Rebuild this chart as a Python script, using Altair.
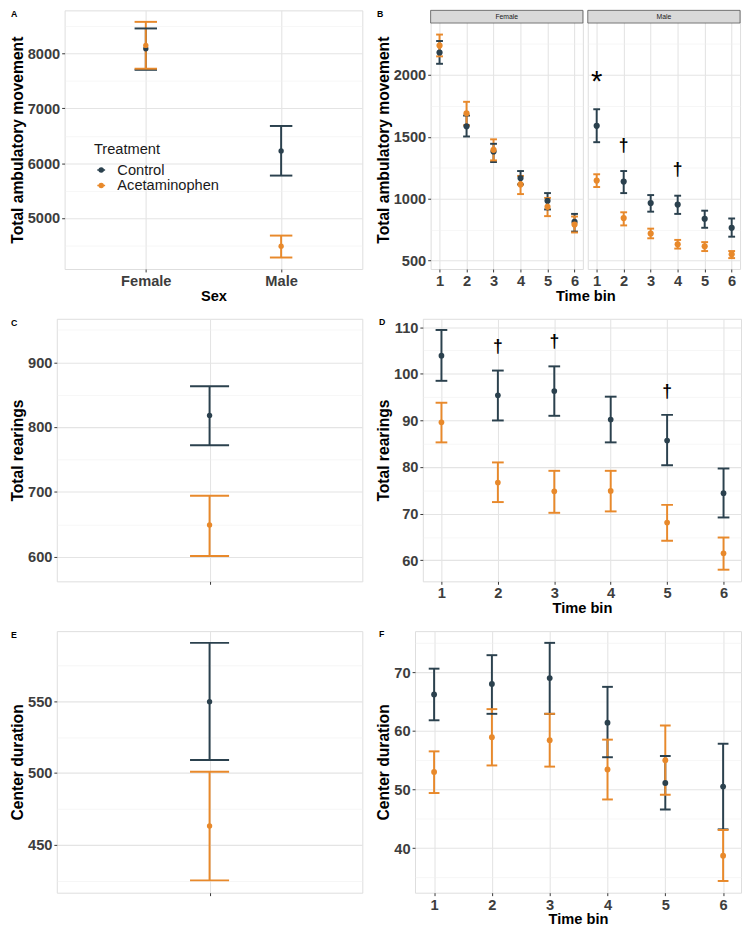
import altair as alt
import pandas as pd

# ---------------- data ----------------
treatments = ["Control", "Acetaminophen"]
sexes = ["Female", "Male"]
time_bins = [1, 2, 3, 4, 5, 6]

# Panel A: total ambulatory movement by sex
a_ctrl_mean = [8090, 6225]
a_ctrl_lo = [7705, 5775]
a_ctrl_hi = [8460, 6680]
a_acet_mean = [8150, 4485]
a_acet_lo = [7725, 4280]
a_acet_hi = [8580, 4680]

# Panel B: ambulatory movement per time bin, females
bf_ctrl_mean = [2181, 1586, 1382, 1167, 984, 813]
bf_ctrl_lo = [2090, 1503, 1297, 1116, 914, 735]
bf_ctrl_hi = [2274, 1672, 1444, 1224, 1046, 878]
bf_acet_mean = [2238, 1690, 1395, 1116, 935, 792]
bf_acet_lo = [2150, 1594, 1310, 1038, 860, 728]
bf_acet_hi = [2326, 1783, 1480, 1185, 1007, 857]
# Panel B: males
bm_ctrl_mean = [1589, 1139, 966, 953, 839, 766]
bm_ctrl_lo = [1457, 1046, 896, 878, 766, 694]
bm_ctrl_hi = [1723, 1224, 1030, 1025, 904, 841]
bm_acet_mean = [1147, 844, 720, 632, 617, 552]
bm_acet_lo = [1095, 785, 681, 598, 578, 521]
bm_acet_hi = [1198, 891, 759, 668, 650, 578]
b_star_bin = [1]
b_star_val = [1995]
b_dagger_bin = [2, 4]
b_dagger_val = [1426, 1232]

# Panel C: total rearings
c_ctrl_mean = [818]
c_ctrl_lo = [772]
c_ctrl_hi = [863]
c_acet_mean = [649]
c_acet_lo = [601]
c_acet_hi = [694]

# Panel D: rearings per time bin
d_ctrl_mean = [103.9, 95.4, 96.3, 90.2, 85.7, 74.4]
d_ctrl_lo = [98.5, 90.0, 91.0, 85.3, 80.4, 69.2]
d_ctrl_hi = [109.4, 100.7, 101.6, 95.1, 91.2, 79.7]
d_acet_mean = [89.6, 76.7, 74.8, 74.9, 68.1, 61.5]
d_acet_lo = [85.3, 72.5, 70.2, 70.5, 64.2, 58.0]
d_acet_hi = [93.8, 81.0, 79.2, 79.2, 71.9, 64.9]
d_dagger_bin = [2, 3, 5]
d_dagger_val = [105.8, 106.7, 96.1]

# Panel E: center duration
e_ctrl_mean = [549.8]
e_ctrl_lo = [509.2]
e_ctrl_hi = [590.8]
e_acet_mean = [463.1]
e_acet_lo = [425.2]
e_acet_hi = [500.9]

# Panel F: center duration per time bin
f_ctrl_mean = [66.2, 68.0, 69.0, 61.4, 51.1, 50.5]
f_ctrl_lo = [61.8, 62.9, 62.9, 55.5, 46.6, 43.2]
f_ctrl_hi = [70.6, 72.9, 75.0, 67.5, 55.7, 57.8]
f_acet_mean = [53.0, 58.9, 58.4, 53.4, 55.0, 38.7]
f_acet_lo = [49.4, 54.1, 53.9, 48.3, 49.1, 34.4]
f_acet_hi = [56.5, 63.7, 62.9, 58.5, 60.9, 43.1]

# ---------------- style ----------------
FONT = "Liberation Sans"
C_CTRL = "#2B414E"
C_ACET = "#E8892B"
LABEL_COL = "#3D3D3D"
GRID_MAJ = "#E4E4E4"
GRID_MIN = "#F0F0F0"
BORDER = "#808080"


def frame(xvals, cm, cl, ch, am, al, ah):
    n = len(xvals)
    return pd.DataFrame({
        "x": list(xvals) * 2,
        "treatment": ["Control"] * n + ["Acetaminophen"] * n,
        "mean": list(cm) + list(am),
        "lo": list(cl) + list(al),
        "hi": list(ch) + list(ah),
    })


def cond_axis_props(cond, major_w=1.1, minor_w=0.6):
    return dict(
        gridColor={"condition": {"test": cond, "value": GRID_MAJ}, "value": GRID_MIN},
        gridWidth={"condition": {"test": cond, "value": major_w}, "value": minor_w},
        tickOpacity={"condition": {"test": cond, "value": 1}, "value": 0},
    )


def y_axis(major, minor, title, labels=True):
    vals = sorted(major + minor)
    cond = f"indexof({major}, datum.value) >= 0"
    kw = dict(
        values=vals, grid=True, domain=False, format="d",
        labelOverlap=False, labelFlush=False,
        **cond_axis_props(cond),
    )
    if labels:
        kw.update(
            title=title, labelExpr=f"{cond} ? datum.label : ''",
            ticks=True, tickSize=3, tickColor="#333333", tickWidth=1,
            labelFont=FONT, labelFontSize=15, labelFontWeight="bold",
            labelColor=LABEL_COL, labelPadding=2,
            titleFont=FONT, titleFontSize=16, titleFontWeight="bold",
            titleColor="#000000", titlePadding=2,
        )
    else:
        kw.update(title=None, labels=False, ticks=False, minExtent=0)
    return alt.Axis(**kw)


def time_axis(title, title_x=None):
    vals = [1, 1.5, 2, 2.5, 3, 3.5, 4, 4.5, 5, 5.5, 6]
    cond = "datum.value % 1 === 0"
    kw = dict(
        values=vals, grid=True, domain=False, format="d",
        labelOverlap=False, labelFlush=False,
        labelExpr=f"{cond} ? datum.label : ''",
        ticks=True, tickSize=3, tickColor="#333333", tickWidth=1,
        labelFont=FONT, labelFontSize=15, labelFontWeight="bold",
        labelColor=LABEL_COL, labelPadding=2,
        titleFont=FONT, titleFontSize=15, titleFontWeight="bold",
        titleColor="#000000", titlePadding=0,
        **cond_axis_props(cond),
    )
    kw["title"] = title
    if title_x is not None:
        kw["titleX"] = title_x
    return alt.Axis(**kw)


def cat_axis(title, labels=True):
    kw = dict(
        grid=True, gridColor=GRID_MAJ, gridWidth=1.1, domain=False,
        ticks=True, tickSize=3, tickColor="#333333", tickWidth=1,
        labelAngle=0, labelFont=FONT, labelFontSize=15, labelFontWeight="bold",
        labelColor=LABEL_COL, labelPadding=2,
        titleFont=FONT, titleFontSize=15, titleFontWeight="bold",
        titleColor="#000000", titlePadding=0,
    )
    if labels:
        kw["title"] = title
    else:
        kw.update(labels=False, title=None)
    return alt.Axis(**kw)


CSCALE = alt.Scale(domain=treatments, range=[C_CTRL, C_ACET])
TIME_SCALE = alt.Scale(domain=[0.67, 6.31], nice=False, zero=False)

LEGEND = alt.Legend(
    title="Treatment", orient="none", legendX=30, legendY=135,
    titleFont=FONT, titleFontSize=15, titleFontWeight="normal", titleColor="#1A1A1A",
    titlePadding=6, labelFont=FONT, labelFontSize=15, labelColor="#1A1A1A",
    symbolType="M-1,0H1M-0.5,0A0.5,0.5,0,1,0,0.5,0A0.5,0.5,0,1,0,-0.5,0Z",
    symbolSize=64, symbolStrokeWidth=1.6, rowPadding=0, labelOffset=9, padding=0,
)


def letter_layer(letter, lx, ly):
    return alt.Chart(pd.DataFrame({"lab": [letter]})).mark_text(
        align="left", baseline="middle", fontSize=9, fontWeight="bold",
        font=FONT, color="#000000",
    ).encode(text="lab:N", x=alt.value(lx), y=alt.value(ly))


def panel(df, xdef, ys, yax, w, h, capw, psize, letter=None, lx=0, ly=0, legend=None,
          extras=(), front=()):
    color = alt.Color("treatment:N", scale=CSCALE, legend=legend)
    base = alt.Chart(df)
    rule = base.mark_rule(strokeWidth=2, opacity=1).encode(
        x=xdef, y=alt.Y("lo:Q", scale=ys, axis=yax), y2="hi:Q", color=color)
    cap_lo = base.mark_tick(orient="horizontal", size=capw, thickness=2, opacity=1).encode(
        x=xdef, y=alt.Y("lo:Q", scale=ys, axis=yax), color=color)
    cap_hi = base.mark_tick(orient="horizontal", size=capw, thickness=2, opacity=1).encode(
        x=xdef, y=alt.Y("hi:Q", scale=ys, axis=yax), color=color)
    pts = base.mark_circle(size=psize, opacity=1).encode(
        x=xdef, y=alt.Y("mean:Q", scale=ys, axis=yax), color=color)
    layers = [rule, cap_lo, cap_hi, pts] + list(extras) + list(front)
    if letter:
        layers.append(letter_layer(letter, lx, ly))
    return alt.layer(*layers).properties(width=w, height=h)


def annotations(bins, vals, symbol, size, xdef, ys, yax, dy=0, weight="normal"):
    df = pd.DataFrame({"x": bins, "y": vals, "s": [symbol] * len(bins)})
    return alt.Chart(df).mark_text(
        fontSize=size, font=FONT, color="#000000", baseline="middle", dy=dy,
        fontWeight=weight,
    ).encode(x=xdef, y=alt.Y("y:Q", scale=ys, axis=yax), text="s:N")


STRIP_H = 13


def strip(name, w):
    d = pd.DataFrame({"s": [name]})
    rect = alt.Chart(d).mark_rect(fill="#D9D9D9", stroke="#555555", strokeWidth=0.8).encode(
        x=alt.value(0), x2=alt.value(w), y=alt.value(0), y2=alt.value(STRIP_H))
    txt = alt.Chart(d).mark_text(fontSize=7, font=FONT, color="#1A1A1A", baseline="middle").encode(
        text="s:N", x=alt.value(w / 2), y=alt.value(STRIP_H / 2))
    return [rect, txt]


def spacer():
    # invisible 1px anchor so that every row lines up on its left edge
    return alt.Chart(pd.DataFrame({"v": [0]})).mark_rect(opacity=0).encode(
        x=alt.value(0), x2=alt.value(0), y=alt.value(0), y2=alt.value(0)
    ).properties(width=1, height=1, view=alt.ViewBackground(strokeOpacity=0, fillOpacity=0))


# ---------------- Panel A ----------------
ROW1_H = 265
A_W = 305
a_df = frame(sexes, a_ctrl_mean, a_ctrl_lo, a_ctrl_hi, a_acet_mean, a_acet_lo, a_acet_hi)
a_x = alt.X("x:N", sort=sexes, scale=alt.Scale(type="point", padding=0.6), axis=cat_axis("Sex"))
a_ys = alt.Scale(domain=[4070, 8790], nice=False, zero=False)
a_yax = y_axis([5000, 6000, 7000, 8000], [4500, 5500, 6500, 7500, 8500], "Total ambulatory movement")
chart_a = panel(a_df, a_x, a_ys, a_yax, A_W, ROW1_H, 23, 30, "A", -55, 4, legend=LEGEND)

# ---------------- Panel B ----------------
B_W = 156
# data area spans 433..2419 below a 13px strip that sits inside the panel
b_lo, b_hi = 433, 2419
b_top = b_hi + STRIP_H * (b_hi - b_lo) / (ROW1_H - STRIP_H)
b_ys = alt.Scale(domain=[b_lo, b_top], nice=False, zero=False)
b_major = [500, 1000, 1500, 2000]
b_minor = [750, 1250, 1750, 2250]
bf_df = frame(time_bins, bf_ctrl_mean, bf_ctrl_lo, bf_ctrl_hi, bf_acet_mean, bf_acet_lo, bf_acet_hi)
bm_df = frame(time_bins, bm_ctrl_mean, bm_ctrl_lo, bm_ctrl_hi, bm_acet_mean, bm_acet_lo, bm_acet_hi)
bf_x = alt.X("x:Q", scale=TIME_SCALE, axis=time_axis("Time bin", title_x=(2 * B_W + 5) / 2))
bm_x = alt.X("x:Q", scale=TIME_SCALE, axis=time_axis(None))
bf_yax = y_axis(b_major, b_minor, "Total ambulatory movement")
bm_yax = y_axis(b_major, b_minor, None, labels=False)
chart_bf = panel(bf_df, bf_x, b_ys, bf_yax, B_W, ROW1_H, 7, 40, "B", -55, 4,
                 front=strip("Female", B_W))
chart_bm = panel(bm_df, bm_x, b_ys, bm_yax, B_W, ROW1_H, 7, 40,
                 front=strip("Male", B_W) + [
                     annotations(b_star_bin, b_star_val, "*", 30, bm_x, b_ys, bm_yax, dy=7),
                     annotations(b_dagger_bin, b_dagger_val, "\u2020", 18, bm_x, b_ys, bm_yax,
                                 weight="bold"),
                 ])
chart_b = alt.hconcat(chart_bf, chart_bm, spacing=5, bounds="flush").resolve_scale(color="independent")

# ---------------- Panel C ----------------
ROW2_H = 269
C_W = 313
c_df = frame(["all"], c_ctrl_mean, c_ctrl_lo, c_ctrl_hi, c_acet_mean, c_acet_lo, c_acet_hi)
c_x = alt.X("x:N", scale=alt.Scale(type="point", padding=0.5), axis=cat_axis(None, labels=False))
c_ys = alt.Scale(domain=[562, 967], nice=False, zero=False)
c_yax = y_axis([600, 700, 800, 900], [650, 750, 850, 950], "Total rearings")
chart_c = panel(c_df, c_x, c_ys, c_yax, C_W, ROW2_H, 40, 30, "C", -47, 4)

# ---------------- Panel D ----------------
D_W = 326
d_df = frame(time_bins, d_ctrl_mean, d_ctrl_lo, d_ctrl_hi, d_acet_mean, d_acet_lo, d_acet_hi)
d_x = alt.X("x:Q", scale=TIME_SCALE, axis=time_axis("Time bin"))
d_ys = alt.Scale(domain=[55.5, 111.8], nice=False, zero=False)
d_yax = y_axis([60, 70, 80, 90, 100, 110], [65, 75, 85, 95, 105], "Total rearings")
chart_d = panel(d_df, d_x, d_ys, d_yax, D_W, ROW2_H, 12, 34, "D", -45, 3,
                extras=[annotations(d_dagger_bin, d_dagger_val, "\u2020", 18, d_x, d_ys, d_yax,
                                    weight="bold")])

# ---------------- Panel E ----------------
ROW3_H = 268
E_W = 313
e_df = frame(["all"], e_ctrl_mean, e_ctrl_lo, e_ctrl_hi, e_acet_mean, e_acet_lo, e_acet_hi)
e_x = alt.X("x:N", scale=alt.Scale(type="point", padding=0.5), axis=cat_axis(None, labels=False))
e_ys = alt.Scale(domain=[416.6, 599], nice=False, zero=False)
e_yax = y_axis([450, 500, 550], [425, 475, 525, 575], "Center duration")
chart_e = panel(e_df, e_x, e_ys, e_yax, E_W, ROW3_H, 40, 30, "E", -47, 4)

# ---------------- Panel F ----------------
F_W = 334
f_df = frame(time_bins, f_ctrl_mean, f_ctrl_lo, f_ctrl_hi, f_acet_mean, f_acet_lo, f_acet_hi)
f_x = alt.X("x:Q", scale=TIME_SCALE, axis=time_axis("Time bin"))
f_ys = alt.Scale(domain=[32.4, 77], nice=False, zero=False)
f_yax = y_axis([40, 50, 60, 70], [35, 45, 55, 65, 75], "Center duration")
chart_f = panel(f_df, f_x, f_ys, f_yax, F_W, ROW3_H, 11, 36, "F", -37, 3)


# ---------------- layout ----------------
def row(left, right):
    lead = alt.hconcat(spacer(), left, spacing=0).resolve_scale(color="independent")
    return alt.hconcat(lead, right, spacing=12).resolve_scale(color="independent")


chart = (
    alt.vconcat(row(chart_a, chart_b), row(chart_c, chart_d), row(chart_e, chart_f), spacing=13)
    .resolve_scale(color="independent")
    .properties(padding={"left": 0, "right": 0, "top": -10, "bottom": 0}, background="#FFFFFF")
    .configure_view(stroke=BORDER, strokeWidth=1)
    .configure(font=FONT)
)

chart.save("out.html", embed_options={"renderer": "svg", "actions": False})
